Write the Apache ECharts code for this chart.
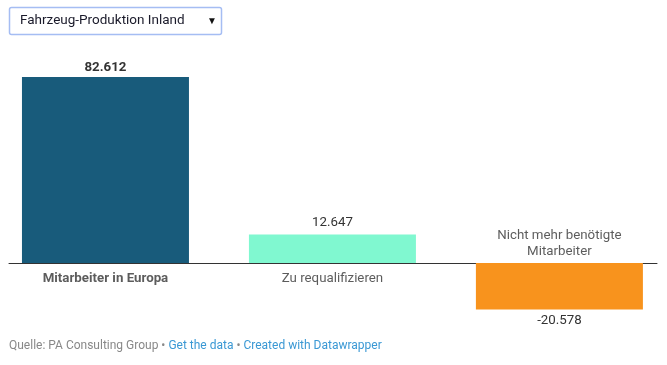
<!DOCTYPE html>
<html><head><meta charset="utf-8">
<script src="https://cdn.jsdelivr.net/npm/echarts@6/dist/echarts.min.js"></script>
<style>html,body{margin:0;padding:0;background:#fff}#c{width:667px;height:365px}</style>
</head><body><div id="c"></div>
<script>
const categories = ["Mitarbeiter in Europa", "Zu requalifizieren", "Nicht mehr benötigte\nMitarbeiter"];
const values = [82612, 12647, -20578];
const colors = ["#185b7b", "#80f8d0", "#f8931d"];
const dropdownLabel = "Fahrzeug-Produktion Inland";

function fmt(v){ const s = Math.abs(v).toString().replace(/\B(?=(\d{3})+(?!\d))/g, "."); return (v<0?"-":"")+s; }

const font = "Roboto, 'Noto Sans', sans-serif";
const chart = echarts.init(document.getElementById('c'), null, {renderer:'canvas'});
chart.setOption({
  animation:false,
  textStyle:{fontFamily:font},
  grid:{left:9, right:10, top:60.4, bottom:34.4, containLabel:false},
  xAxis:{type:'value', min:-0.425, max:2.43, axisLabel:{show:false}, axisTick:{show:false}, splitLine:{show:false},
    axisLine:{show:true, onZero:true, lineStyle:{color:'#333', width:1}}},
  yAxis:{type:'value', min:-30000, max:90000, show:false, splitLine:{show:false}},
  title:{left:9, top:340, padding:0, text:"{g|Quelle: PA Consulting Group • }{b|Get the data}{g| • }{b|Created with Datawrapper}",
    textStyle:{fontWeight:'normal', rich:{g:{color:'#888', fontSize:12, fontWeight:'normal', fontFamily:font}, b:{color:'#3a98d4', fontSize:12, fontWeight:'normal', fontFamily:font}}}},
  graphic:[
    {type:'rect', shape:{x:9.5, y:7.5, width:212, height:27, r:2}, style:{fill:'#fff', stroke:'#a5bdf3', lineWidth:1.5}},
    {type:'text', x:20, y:21, style:{text:dropdownLabel, fill:'#1a1a2a', font:'13.5px '+font, textVerticalAlign:'middle'}},
    {type:'text', x:207, y:21, style:{text:'▼', fill:'#111', font:'10px '+font, textVerticalAlign:'middle'}}
  ],
  series:[
    {type:'bar', barWidth:167,
      data: values.map((v,i)=>({value:[i,v], itemStyle:{color:colors[i]},
        label:{show:true, position: v>=0?'top':'bottom', distance: i===0?3:5, formatter:fmt(v),
          color:'#333', fontSize:13.3, fontWeight: i===0?'bold':'normal', fontFamily:font}}))
    },
    {type:'scatter', symbolSize:1, itemStyle:{color:'transparent'}, silent:true,
      data: values.map((v,i)=>({value:[i,0],
        label:{show:true, position: v>=0?'bottom':'top', distance: v>=0?7:3, formatter:categories[i],
          color:'#333', fontSize:13.3, lineHeight:16, align:'center', fontWeight: i===0?'bold':'normal', fontFamily:font}}))
    }
  ]
});
</script></body></html>
